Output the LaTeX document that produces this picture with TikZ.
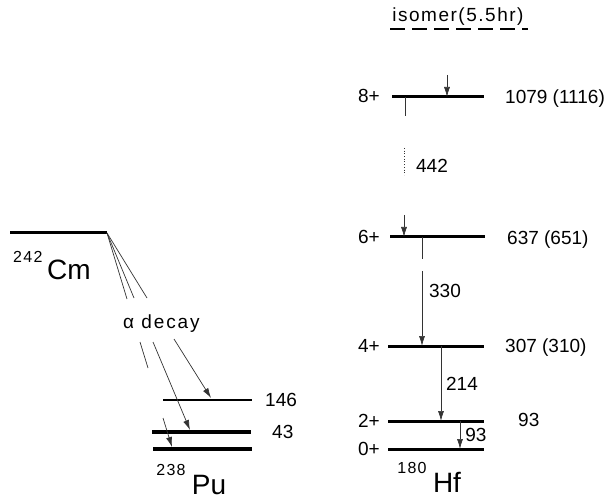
\documentclass[tikz,border=0pt]{standalone}
\usepackage{fontspec}
\setmainfont{Liberation Sans}
\usetikzlibrary{arrows.meta}
\begin{document}
\begin{tikzpicture}[x=1pt,y=-1pt,
  lvl/.style={line width=3pt},
  thick lvl/.style={line width=3.5pt},
  tr/.style={line width=0.7pt, black!80},
  arr/.style={tr, -{Latex[length=10pt,width=6pt]}},
  lab/.style={font=\fontsize{19}{21}\selectfont, inner sep=0pt, text depth=0pt},
  big/.style={font=\fontsize{28}{30}\selectfont, inner sep=0pt, text depth=0pt},
  sup/.style={font=\fontsize{16}{18}\selectfont\addfontfeature{LetterSpace=8}, inner sep=0pt, text depth=0pt},
]
\useasboundingbox (0,0) rectangle (606,500);

% ---- 242Cm level
\coordinate (cmL) at (10,233);
\coordinate (cmR) at (107,233);
\draw[lvl] (cmL) -- (cmR);
\node[sup, anchor=west] (cmA) at (13,257) {242};
\node[big, anchor=west] (cm) at (47,270) {Cm};

% ---- 238Pu levels
\coordinate (p146L) at (163,400); \coordinate (p146R) at (252,400);
\coordinate (p43L) at (152,432);  \coordinate (p43R) at (251,432);
\coordinate (p0L) at (153,449);   \coordinate (p0R) at (252,449);
\draw[line width=2.6pt] (p146L) -- (p146R);
\draw[thick lvl] (p43L) -- (p43R);
\draw[thick lvl] (p0L) -- (p0R);
\node[lab, anchor=west] (l146) at (265,400) {146};
\node[lab, anchor=west] (l43) at (272,432) {43};
\node[sup, anchor=center] (puA) at (171,470) {238};
\node[big, anchor=center] (pu) at (209,485) {Pu};

% ---- alpha decay lines
\coordinate (a1a) at (127,299); \coordinate (a1b) at (140,342);
\coordinate (a1c) at (148,368); \coordinate (a1d) at (163,418);
\coordinate (a1e) at (172,447);
\coordinate (a2a) at (134,298); \coordinate (a2b) at (153,342);
\coordinate (a2e) at (190,430);
\coordinate (a3a) at (147,298); \coordinate (a3b) at (174,339);
\coordinate (a3e) at (211,398);
\draw[tr] (cmR) -- (a1a);
\draw[tr] (a1b) -- (a1c);
\draw[arr] (a1d) -- (a1e);
\draw[tr] (cmR) -- (a2a);
\draw[arr] (a2b) -- (a2e);
\draw[tr] (cmR) -- (a3a);
\draw[arr] (a3b) -- (a3e);
\node[lab, anchor=west] (alpha) at (123,322) {\addfontfeature{LetterSpace=10}α decay};

% ---- 180Hf levels
\coordinate (h8L) at (392,97);  \coordinate (h8R) at (484,97);
\coordinate (h6L) at (390,237); \coordinate (h6R) at (485,237);
\coordinate (h4L) at (388,346); \coordinate (h4R) at (484,346);
\coordinate (h2L) at (388,421); \coordinate (h2R) at (484,421);
\coordinate (h0L) at (388,449); \coordinate (h0R) at (484,449);
\foreach \n in {8,6,4,2,0} \draw[lvl] (h\n L) -- (h\n R);

\node[lab] (s8) at (369,96) {8+};
\node[lab] (s6) at (369,237) {6+};
\node[lab] (s4) at (369,346) {4+};
\node[lab] (s2) at (369,421) {2+};
\node[lab] (s0) at (369,449) {0+};

\node[lab, anchor=west] (e8) at (505,97) {1079 (1116)};
\node[lab, anchor=west] (e6) at (507,238) {637 (651)};
\node[lab, anchor=west] (e4) at (505,346) {307 (310)};
\node[lab, anchor=west] (e2) at (518,420) {93};

% isomer
\node[lab] (iso) at (458,15) {\addfontfeature{LetterSpace=8}isomer(5.5hr)};
\coordinate (isoL) at (390,29); \coordinate (isoR) at (528,29);
\draw[line width=2.3pt, dash pattern=on 15pt off 7pt] (isoL) -- (isoR);

% transitions
\coordinate (t0a) at (447,75); \coordinate (t0b) at (447,97);
\draw[arr] (t0a) -- (t0b);
\coordinate (tk1) at (405,97); \coordinate (tk2) at (405,116);
\draw[tr] (tk1) -- (tk2);
\coordinate (d1) at (404,148); \coordinate (d2) at (404,175);
\draw[tr, dotted] (d1) -- (d2);
\node[lab] (g442) at (432,166) {442};
\coordinate (t1a) at (404,215); \coordinate (t1b) at (404,237);
\draw[arr] (t1a) -- (t1b);

\coordinate (t2a) at (422,237); \coordinate (t2b) at (422,259);
\coordinate (t2c) at (422,271); \coordinate (t2d) at (422,346);
\draw[tr] (t2a) -- (t2b);
\draw[arr] (t2c) -- (t2d);
\node[lab] (g330) at (445,291) {330};

\coordinate (t3a) at (441,346); \coordinate (t3b) at (441,421);
\draw[arr] (t3a) -- (t3b);
\node[lab] (g214) at (462,384) {214};

\coordinate (t4a) at (460,421); \coordinate (t4b) at (460,449);
\draw[arr] (t4a) -- (t4b);
\node[lab] (g93) at (476,435) {93};

\node[sup] (hfA) at (412,468) {180};
\node[big] (hf) at (447,482) {Hf};
\end{tikzpicture}
\end{document}
